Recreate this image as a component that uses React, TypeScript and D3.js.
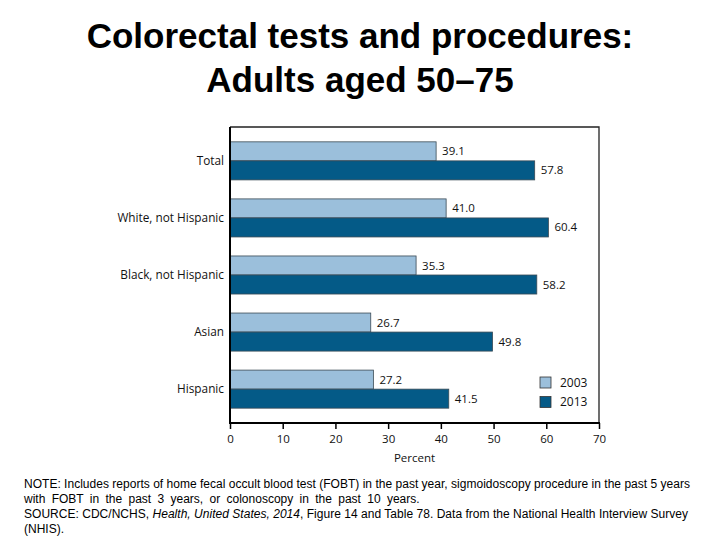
import React, { useRef, useEffect } from "react";
import * as d3 from "d3";

const categories = ["Total", "White, not Hispanic", "Black, not Hispanic", "Asian", "Hispanic"];
const years = ["2003", "2013"];
const values2003 = [39.1, 41.0, 35.3, 26.7, 27.2];
const values2013 = [57.8, 60.4, 58.2, 49.8, 41.5];
const xTicks = [0, 10, 20, 30, 40, 50, 60, 70];
const yearColors = ["#9bbfdb", "#045a87"];

const titleLines = ["Colorectal tests and procedures:", "Adults aged 50\u201375"];

const App: React.FC = () => {
  const ref = useRef<SVGSVGElement | null>(null);

  useEffect(() => {
    if (!ref.current) return;
    const svg = d3.select(ref.current);
    svg.selectAll("*").remove();

    const plot = { left: 230, right: 599, top: 127, bottom: 423 };
    const uiFont = "'Open Sans', 'Noto Sans', sans-serif";

    // title
    titleLines.forEach((line, i) => {
      svg
        .append("text")
        .attr("x", 360)
        .attr("y", 48 + i * 44)
        .attr("text-anchor", "middle")
        .attr("font-family", "'Liberation Sans', Arial, sans-serif")
        .attr("font-weight", "bold")
        .attr("font-size", 35)
        .attr("fill", "#000")
        .text(line);
    });

    const x = d3.scaleLinear().domain([0, 70]).range([plot.left, plot.right]);
    const y = d3
      .scaleBand<string>()
      .domain(categories)
      .range([plot.top, plot.bottom])
      .paddingInner(0.333)
      .paddingOuter(0.26);
    const ySub = d3.scaleBand<string>().domain(years).range([0, y.bandwidth()]);

    // frame: thin top/right
    svg
      .append("path")
      .attr("d", `M${plot.left},${plot.top}H${plot.right}V${plot.bottom}`)
      .attr("fill", "none")
      .attr("stroke", "#222")
      .attr("stroke-width", 1.3);

    const series = [values2003, values2013];
    categories.forEach((cat, ci) => {
      years.forEach((yr, yi) => {
        const v = series[yi][ci];
        const by = y(cat)! + ySub(yr)!;
        svg
          .append("rect")
          .attr("x", x(0))
          .attr("y", by)
          .attr("width", x(v) - x(0))
          .attr("height", ySub.bandwidth())
          .attr("fill", yearColors[yi])
          .attr("stroke", "#3a4a55")
          .attr("stroke-width", 0.8);
        svg
          .append("text")
          .attr("x", x(v) + 6)
          .attr("y", by + ySub.bandwidth() / 2)
          .attr("dy", "0.35em")
          .attr("font-family", uiFont)
          .attr("font-size", 11.5)
          .attr("fill", "#111")
          .text(v.toFixed(1));
      });
      svg
        .append("text")
        .attr("x", plot.left - 6)
        .attr("y", y(cat)! + y.bandwidth() / 2)
        .attr("dy", "0.35em")
        .attr("text-anchor", "end")
        .attr("font-family", uiFont)
        .attr("font-size", 11.8)
        .attr("fill", "#111")
        .text(cat);
    });

    // left axis line
    svg
      .append("line")
      .attr("x1", plot.left)
      .attr("x2", plot.left)
      .attr("y1", plot.top)
      .attr("y2", plot.bottom)
      .attr("stroke", "#000")
      .attr("stroke-width", 2);

    // bottom axis
    const ax = svg
      .append("g")
      .attr("transform", `translate(0,${plot.bottom})`)
      .call(d3.axisBottom(x).tickValues(xTicks).tickSize(6).tickPadding(6).tickFormat(d3.format("d")));
    ax.select(".domain").attr("stroke", "#000").attr("stroke-width", 2).attr("d", `M${plot.left - 1},0H${plot.right + 1}`);
    ax.selectAll(".tick line").attr("stroke", "#000").attr("stroke-width", 1.5);
    ax.selectAll(".tick text")
      .attr("font-family", uiFont)
      .attr("font-size", 11.5)
      .attr("fill", "#111");

    svg
      .append("text")
      .attr("x", x(35))
      .attr("y", 462)
      .attr("text-anchor", "middle")
      .attr("font-family", uiFont)
      .attr("font-size", 11.5)
      .attr("fill", "#111")
      .text("Percent");

    // legend
    years.forEach((yr, i) => {
      svg
        .append("rect")
        .attr("x", 540)
        .attr("y", 377 + i * 19.5)
        .attr("width", 11)
        .attr("height", 11)
        .attr("fill", yearColors[i])
        .attr("stroke", "#333")
        .attr("stroke-width", 0.8);
      svg
        .append("text")
        .attr("x", 560)
        .attr("y", 382.5 + i * 19.5)
        .attr("dy", "0.35em")
        .attr("font-family", uiFont)
        .attr("font-size", 12)
        .attr("fill", "#111")
        .text(yr);
    });

    // notes
    const noteFont = "'Liberation Sans', Arial, sans-serif";
    const note = (yy: number, len?: number) => {
      const t = svg
        .append("text")
        .attr("x", 24)
        .attr("y", yy)
        .attr("font-family", noteFont)
        .attr("font-size", 12)
        .attr("fill", "#000");
      if (len) t.attr("textLength", len).attr("lengthAdjust", "spacing");
      return t;
    };
    note(488, 666).text(
      "NOTE: Includes reports of home fecal occult blood test (FOBT) in the past year, sigmoidoscopy procedure in the past 5 years"
    );
    note(503).attr("word-spacing", 3).text("with FOBT in the past 3 years, or colonoscopy in the past 10 years.");
    const src = note(518, 664);
    src.append("tspan").text("SOURCE: CDC/NCHS, ");
    src.append("tspan").attr("font-style", "italic").text("Health, United States, 2014");
    src.append("tspan").text(", Figure 14 and Table 78. Data from the National Health Interview Survey");
    note(533).text("(NHIS).");
  }, []);

  return <svg ref={ref} width={720} height={540} style={{ display: "block", position: "absolute", left: 0, top: 0 }} />;
};

export default App;
